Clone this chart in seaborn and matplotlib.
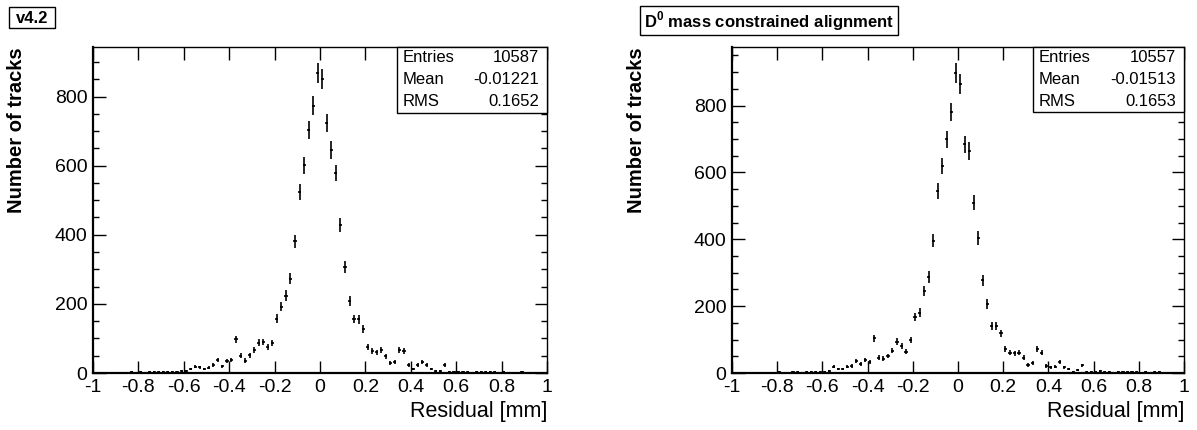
import numpy as np
import pandas as pd
import matplotlib
matplotlib.use("Agg")
import matplotlib.pyplot as plt
from matplotlib.patches import Rectangle
from matplotlib.ticker import MultipleLocator, FuncFormatter
import seaborn as sns

# ---- data ----
bin_lo, bin_hi, n_bins = -1.0, 1.0, 100

counts_v42 = [
    1, 0, 1, 0, 1, 1, 0, 1, 2, 1,
    2, 1, 2, 4, 3, 3, 2, 3, 4, 5,
    5, 11, 18, 16, 12, 15, 23, 38, 20, 35,
    38, 98, 50, 36, 52, 67, 88, 90, 76, 86,
    157, 192, 224, 273, 381, 523, 601, 704, 774, 869,
    851, 724, 646, 579, 429, 306, 207, 156, 155, 127,
    75, 63, 60, 66, 48, 29, 32, 67, 64, 23,
    11, 23, 31, 23, 11, 5, 5, 23, 4, 3,
    2, 4, 2, 1, 2, 3, 4, 4, 2, 1,
    2, 1, 0, 1, 2, 1, 0, 0, 0, 0,
]
counts_d0 = [
    0, 1, 0, 0, 1, 0, 1, 0, 1, 0,
    2, 1, 1, 2, 3, 1, 2, 2, 4, 3,
    3, 7, 19, 11, 11, 19, 21, 35, 27, 39,
    34, 104, 46, 43, 51, 67, 94, 82, 64, 99,
    168, 180, 245, 287, 396, 544, 619, 699, 781, 899,
    864, 684, 664, 509, 404, 277, 206, 141, 141, 119,
    72, 61, 59, 61, 46, 24, 31, 72, 61, 21,
    17, 19, 34, 17, 11, 4, 9, 23, 4, 2,
    2, 5, 3, 2, 1, 3, 3, 4, 2, 2,
    1, 2, 1, 2, 2, 1, 0, 0, 0, 0,
]
titles = ["v4.2", r"D$^\mathbf{0}$ mass constrained alignment"]
stats_v42 = [("Entries", "10587"), ("Mean", "-0.01221"), ("RMS", "0.1652")]
stats_d0 = [("Entries", "10557"), ("Mean", "-0.01513"), ("RMS", "0.1653")]
x_label = "Residual [mm]"
y_label = "Number of tracks"

# ---- style ----
sns.set_theme(style="white")
plt.rcParams["font.family"] = ["Liberation Sans", "DejaVu Sans"]
plt.rcParams["axes.unicode_minus"] = False
plt.rcParams["mathtext.fontset"] = "custom"
plt.rcParams["mathtext.rm"] = "Liberation Sans"
plt.rcParams["mathtext.bf"] = "Liberation Sans:bold"
for key in ["text.color", "axes.labelcolor", "xtick.color", "ytick.color",
            "axes.edgecolor"]:
    plt.rcParams[key] = "black"

W, H = 1197, 430
fig = plt.figure(figsize=(W / 100, H / 100), dpi=100)
fig.patch.set_facecolor("white")


def fx(px):
    return px / W


def fy(py):
    return 1 - py / H


def make_panel(box, counts, stats, title, title_box, stat_box, ylab_x):
    x0, y0, x1, y1 = box
    ax = fig.add_axes([fx(x0), fy(y1), (x1 - x0) / W, (y1 - y0) / H])
    edges = np.linspace(bin_lo, bin_hi, n_bins + 1)
    centers = 0.5 * (edges[:-1] + edges[1:])
    df = pd.DataFrame({"x": centers, "n": np.asarray(counts, float)})
    df["err"] = np.sqrt(df["n"])
    ax.errorbar(df["x"], df["n"], yerr=df["err"], xerr=0.007, fmt="none",
                ecolor="black", elinewidth=1.2, capsize=0)
    sns.scatterplot(data=df, x="x", y="n", ax=ax, color="black", marker="s",
                    s=3, linewidth=0, legend=False)
    ymax = 1.05 * (df["n"].max() + np.sqrt(df["n"].max()))
    ax.set_xlim(bin_lo, bin_hi)
    ax.set_ylim(0, ymax)
    ax.xaxis.set_major_locator(MultipleLocator(0.2))
    ax.yaxis.set_major_locator(MultipleLocator(200))
    ax.yaxis.set_minor_locator(MultipleLocator(50))
    ax.xaxis.set_major_formatter(FuncFormatter(lambda v, p: "%g" % round(v, 2)))
    ax.tick_params(axis="both", which="both", direction="in", top=True,
                   right=True, bottom=True, left=True, colors="black")
    ax.tick_params(axis="both", which="major", length=9, width=1,
                   labelsize=14, pad=4)
    ax.tick_params(axis="both", which="minor", length=4.5, width=1)
    for s in ["top", "right"]:
        ax.spines[s].set_linewidth(1.0)
        ax.spines[s].set_color("black")
    for s in ["left", "bottom"]:
        ax.spines[s].set_linewidth(1.6)
        ax.spines[s].set_color("black")
    ax.set_xlabel(x_label, fontsize=15.5, loc="right", color="black")
    ax.xaxis.set_label_coords(1.0, -0.085)
    ax.set_ylabel(y_label, fontsize=14.5, fontweight="bold", loc="top",
                  color="black")
    ax.yaxis.set_label_coords(ylab_x, 1.0)

    # stat box
    sx0, sy0, sx1, sy1 = stat_box
    fig.patches.append(Rectangle((fx(sx0), fy(sy1)), (sx1 - sx0) / W,
                                 (sy1 - sy0) / H, transform=fig.transFigure,
                                 fc="white", ec="black", lw=1.0, zorder=5))
    rh = (sy1 - sy0) / 3
    for i, (k, v) in enumerate(stats):
        yc = sy0 + rh * (i + 0.5)
        fig.text(fx(sx0 + 6), fy(yc), k, fontsize=12, ha="left",
                 va="center", zorder=6, color="black")
        fig.text(fx(sx1 - 8), fy(yc), v, fontsize=12, ha="right",
                 va="center", zorder=6, color="black")

    # title box
    tx0, ty0, tx1, ty1 = title_box
    fig.patches.append(Rectangle((fx(tx0), fy(ty1)), (tx1 - tx0) / W,
                                 (ty1 - ty0) / H, transform=fig.transFigure,
                                 fc="white", ec="black", lw=1.0, zorder=5))
    fig.text(fx((tx0 + tx1) / 2), fy((ty0 + ty1) / 2 + 1), title,
             fontsize=12, fontweight="bold", ha="center", va="center",
             zorder=6, color="black")
    return ax


make_panel((93, 47, 547, 373), counts_v42, stats_v42, titles[0],
           (9, 7, 55, 28), (397, 47, 547, 113), -0.148)
make_panel((732, 47, 1184, 373), counts_d0, stats_d0, titles[1],
           (640, 6, 898, 35), (1033, 47, 1184, 112), -0.19)

fig.savefig("out.png", dpi=100, facecolor="white")
